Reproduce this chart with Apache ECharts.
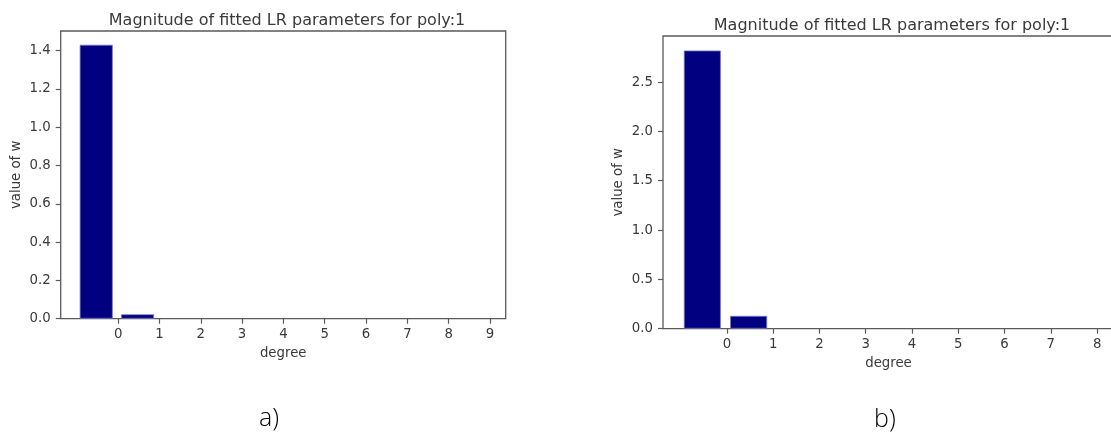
<!DOCTYPE html>
<html>
<head>
<meta charset="utf-8">
<script src="https://cdn.jsdelivr.net/npm/echarts@6/dist/echarts.min.js"></script>
<style>
html,body{margin:0;padding:0;background:#fff;}
#chart{width:1111px;height:432px;}
</style>
</head>
<body>
<div id="chart"></div>
<script>
// ---- data ----
const titleText = 'Magnitude of fitted LR parameters for poly:1';
const barPositions = [-0.53, 0.47];          // bar centres on the degree axis
const valuesA = [1.431, 0.023];              // panel a)
const valuesB = [2.82, 0.13];                // panel b)
const xTicksA = [0, 1, 2, 3, 4, 5, 6, 7, 8, 9];
const xTicksB = [0, 1, 2, 3, 4, 5, 6, 7, 8];
const yTicksA = [0, 0.2, 0.4, 0.6, 0.8, 1.0, 1.2, 1.4];
const yTicksB = [0, 0.5, 1.0, 1.5, 2.0, 2.5];
const panelLabels = ['a)', 'b)'];

const FONT = 'DejaVu Sans';
const TXT = '#3a3a3a';
const FRAME = '#5a5a5a';

function xAxisCfg(gridIndex, min, max, ticks) {
  return {
    type: 'value', gridIndex, min, max,
    name: 'degree', nameLocation: 'middle', nameGap: 28,
    nameTextStyle: {fontFamily: FONT, fontSize: 13.3, color: TXT},
    axisLine: {show: false, onZero: false},
    splitLine: {show: false},
    axisTick: {show: true, length: 5, customValues: ticks, lineStyle: {color: FRAME, width: 1.2}},
    axisLabel: {customValues: ticks, margin: 9, fontFamily: FONT, fontSize: 13.3, color: TXT,
      formatter: v => String(v)}
  };
}
function yAxisCfg(gridIndex, max, ticks) {
  return {
    type: 'value', gridIndex, min: 0, max,
    name: 'value of w', nameLocation: 'middle', nameRotate: 90, nameGap: 38,
    nameTextStyle: {fontFamily: FONT, fontSize: 13.3, color: TXT},
    axisLine: {show: false, onZero: false},
    splitLine: {show: false},
    axisTick: {show: true, length: 5, customValues: ticks, lineStyle: {color: FRAME, width: 1.2}},
    axisLabel: {customValues: ticks, margin: 10, fontFamily: FONT, fontSize: 13.3, color: TXT,
      formatter: v => v.toFixed(1)}
  };
}
function barSeries(idx, values) {
  return {
    type: 'bar', xAxisIndex: idx, yAxisIndex: idx,
    data: barPositions.map((p, i) => [p, values[i]]),
    barWidth: '80%',
    itemStyle: {color: '#000080', borderColor: '#7a7ac8', borderWidth: 0.8},
    silent: true, animation: false
  };
}

const chart = echarts.init(document.getElementById('chart'), null, {renderer: 'canvas'});
chart.setOption({
  animation: false,
  backgroundColor: '#ffffff',
  title: [
    {text: titleText, left: 282, top: 8, textAlign: 'center',
     textStyle: {fontFamily: FONT, fontSize: 16, fontWeight: 'normal', color: TXT}},
    {text: titleText, left: 887, top: 13, textAlign: 'center',
     textStyle: {fontFamily: FONT, fontSize: 16, fontWeight: 'normal', color: TXT}}
  ],
  grid: [
    {left: 60.7, right: 605.3, top: 31, bottom: 113.3, show: true, borderColor: FRAME, borderWidth: 1.3,
     backgroundColor: 'transparent', containLabel: false, outerBoundsMode: 'none'},
    {left: 663, right: -3, top: 36, bottom: 103.3, show: true, borderColor: FRAME, borderWidth: 1.3,
     backgroundColor: 'transparent', containLabel: false, outerBoundsMode: 'none'}
  ],
  xAxis: [
    xAxisCfg(0, -1.39, 9.38, xTicksA),
    xAxisCfg(1, -1.38, 8.365, xTicksB)
  ],
  yAxis: [
    yAxisCfg(0, 1.503, yTicksA),
    yAxisCfg(1, 2.967, yTicksB)
  ],
  series: [barSeries(0, valuesA), barSeries(1, valuesB)],
  graphic: [
    {type: 'text', left: 259, top: 406, style: {text: panelLabels[0], fontFamily: 'Open Sans', fontWeight: 300, fontSize: 25, fill: '#000'}},
    {type: 'text', left: 874, top: 407, style: {text: panelLabels[1], fontFamily: 'Open Sans', fontWeight: 300, fontSize: 25, fill: '#000'}}
  ]
});
</script>
</body>
</html>
